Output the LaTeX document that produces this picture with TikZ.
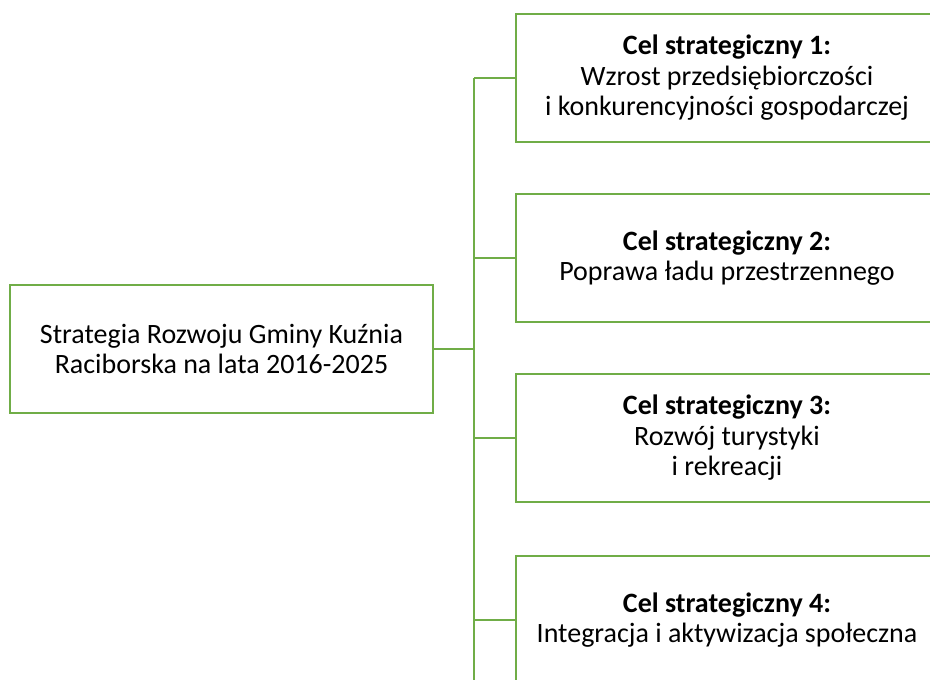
\documentclass[tikz,border=0pt]{standalone}
\usepackage{fontspec}
\setmainfont{Carlito}
\definecolor{grn}{HTML}{70AD47}
\begin{document}
\begin{tikzpicture}[x=1pt,y=-1pt,
  box/.style={draw=grn, line width=2.8pt, rectangle, align=center, inner sep=0pt,
    font=\fontsize{28}{30.5}\selectfont, text=black},
  lbox/.style={box, minimum width=423pt, minimum height=128pt},
  rbox/.style={box, minimum width=422pt, minimum height=128pt},
  conn/.style={draw=grn, line width=2.8pt}]
\useasboundingbox (0,0) rectangle (930,680);
\clip (0,0) rectangle (930,680);
\node[lbox] (L) at (221.5,349) {Strategia Rozwoju Gminy Kuźnia\\Raciborska na lata 2016-2025};
\node[rbox] (R1) at (727,78) {\textbf{Cel strategiczny 1:}\\Wzrost przedsiębiorczości\\i konkurencyjności gospodarczej};
\node[rbox] (R2) at (727,258) {\textbf{Cel strategiczny 2:}\\Poprawa ładu przestrzennego};
\node[rbox] (R3) at (727,438) {\textbf{Cel strategiczny 3:}\\Rozwój turystyki\\i rekreacji};
\node[rbox] (R4) at (727,620) {\textbf{Cel strategiczny 4:}\\Integracja i aktywizacja społeczna};
\coordinate (t1) at (474,78);
\coordinate (t2) at (474,258);
\coordinate (t3) at (474,438);
\coordinate (t4) at (474,620);
\coordinate (tb) at (474,682);
\draw[conn] (t1) -- (tb);
\draw[conn] (L.east) -- (L.east -| t1);
\draw[conn] (t1) -- (R1.west);
\draw[conn] (t2) -- (R2.west);
\draw[conn] (t3) -- (R3.west);
\draw[conn] (t4) -- (R4.west);
\end{tikzpicture}
\end{document}
